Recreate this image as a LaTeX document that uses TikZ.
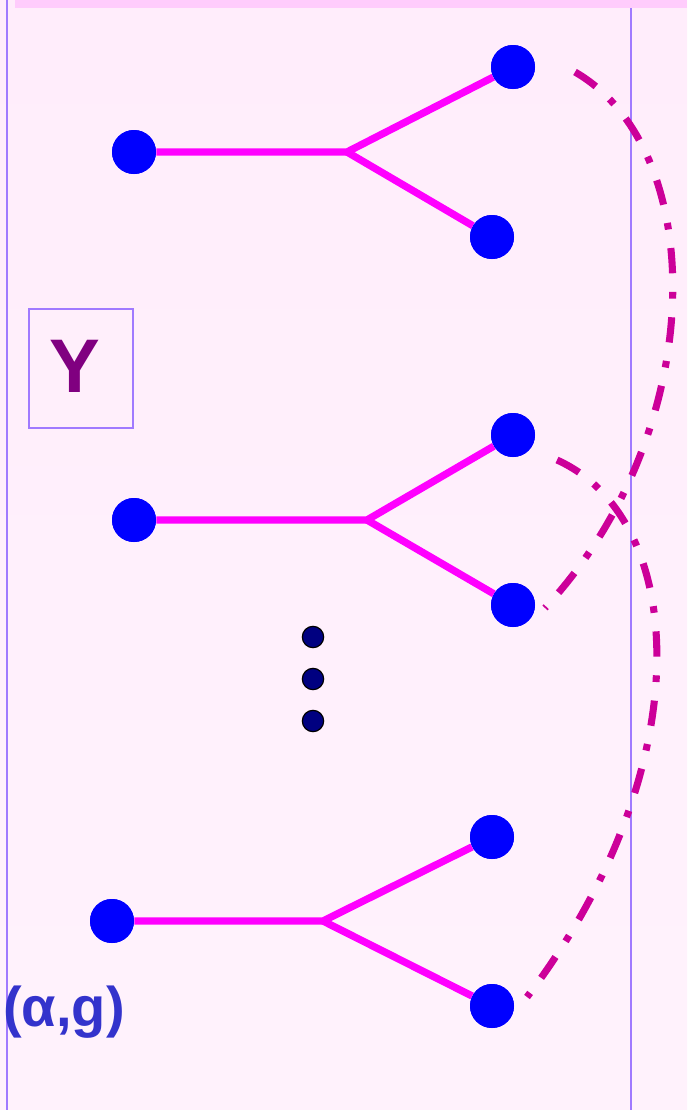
\documentclass[tikz,border=0pt]{standalone}
\usepackage{fontspec}
\setmainfont{Liberation Sans}
\begin{document}
\begin{tikzpicture}[x=0.75pt,y=-0.75pt,
  frame/.style={draw=frameC,line width=1.5pt},
  leaf/.style={circle,fill=nodeC,inner sep=0pt,minimum size=33pt},
  dotn/.style={circle,fill=dotC,draw=black,line width=0.9pt,inner sep=0pt,minimum size=16pt},
  edge/.style={draw=edgeC,line width=5.5pt},
  dd/.style={draw=ddC,line width=5.3pt,dash pattern=on 19pt off 14pt on 5pt off 14pt},
]
\definecolor{bgC}{HTML}{FFEDFB}
\definecolor{bandC}{HTML}{FFCCFC}
\definecolor{frameC}{HTML}{A07AFF}
\definecolor{nodeC}{HTML}{0000FF}
\definecolor{dotC}{HTML}{000080}
\definecolor{edgeC}{HTML}{FF00FF}
\definecolor{ddC}{HTML}{CC0099}
\definecolor{yC}{HTML}{800080}
\definecolor{agC}{HTML}{3333CC}
\useasboundingbox (0,0) rectangle (687,1110);
\fill[top color=bgC,bottom color=bgC!70!white] (0,0) rectangle (687,1110);
\fill[bandC] (15,0) rectangle (687,8);
\draw[frameC,line width=1.5pt] (7,0) -- (7,1110);
\draw[frameC,line width=1.5pt] (631,8) -- (631,1110);
% Y box
\node[frame,minimum width=78pt,minimum height=89pt,inner sep=0pt] (ybox) at (80.5,368.5) {};
\node[font=\fontsize{57}{60}\selectfont\bfseries,text=yC,inner sep=0pt] (ytext) at (75,366) {Y};
% label
\node[font=\fontsize{42}{46}\selectfont\bfseries,text=agC,inner sep=0pt] (ag) at (64,1012) {(α,g)};
% tree 1
\coordinate (b1) at (347,152);
\node[leaf] (r1) at (134,152) {};
\node[leaf] (l1a) at (513,67) {};
\node[leaf] (l1b) at (492,237) {};
% tree 2
\coordinate (b2) at (367,520);
\node[leaf] (r2) at (134,520) {};
\node[leaf] (l2a) at (513,435) {};
\node[leaf] (l2b) at (513,605) {};
% tree 3
\coordinate (b3) at (323,921);
\node[leaf] (r3) at (112,921) {};
\node[leaf] (l3a) at (492,837) {};
\node[leaf] (l3b) at (492,1006) {};
\draw[edge] (r1) -- (b1) -- (l1a); \draw[edge] (b1) -- (l1b);
\draw[edge] (r2) -- (b2) -- (l2a); \draw[edge] (b2) -- (l2b);
\draw[edge] (r3) -- (b3) -- (l3a); \draw[edge] (b3) -- (l3b);
\node[leaf] at (r1) {}; \node[leaf] at (l1a) {}; \node[leaf] at (l1b) {};
\node[leaf] at (r2) {}; \node[leaf] at (l2a) {}; \node[leaf] at (l2b) {};
\node[leaf] at (r3) {}; \node[leaf] at (l3a) {}; \node[leaf] at (l3b) {};
% dots
\node[dotn] (d1) at (313,637) {};
\node[dotn] (d2) at (313,679) {};
\node[dotn] (d3) at (313,721) {};
% dash-dot arcs
\coordinate (s1) at (575,72);
\coordinate (e1) at (545,608);
\coordinate (s2) at (557,460);
\coordinate (e2) at (527,997);
\draw[dd] (s1) .. controls (710,150) and (710,430) .. (e1);
\draw[dd] (s2) .. controls (690,520) and (700,770) .. (e2);
\end{tikzpicture}
\end{document}
